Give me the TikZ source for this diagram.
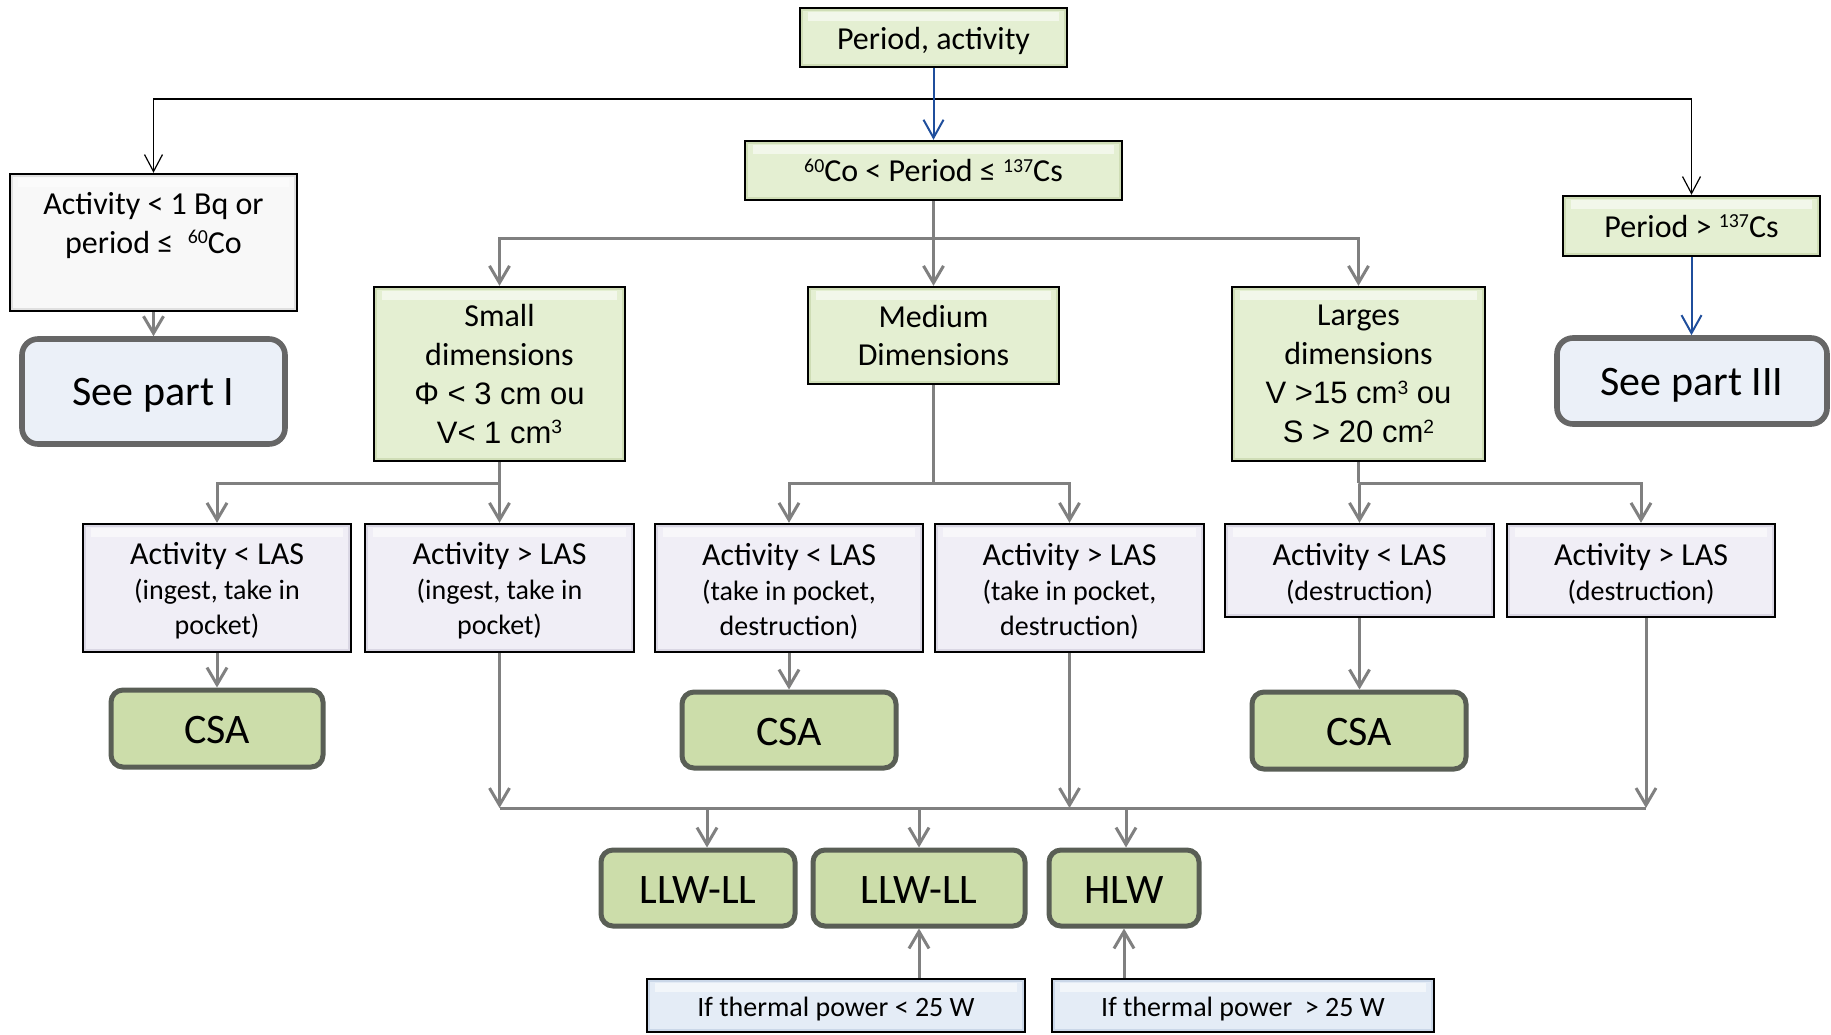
\documentclass[tikz,border=0pt]{standalone}
\usepackage{fontspec}
\setmainfont{Carlito}
\newfontfamily\arialf{Liberation Sans}
\usetikzlibrary{arrows.meta,calc}
\definecolor{gfill}{HTML}{E4EFD2}
\definecolor{gdark}{HTML}{CFDDB6}
\definecolor{wfill}{HTML}{F8F8F8}
\definecolor{wdark}{HTML}{E0E0E0}
\definecolor{lfill}{HTML}{F0EEF6}
\definecolor{ldark}{HTML}{DAD7E4}
\definecolor{tfill}{HTML}{E4ECF6}
\definecolor{tdark}{HTML}{CAD7E8}
\definecolor{seefill}{HTML}{EBF0F8}
\definecolor{seeborder}{HTML}{666666}
\definecolor{rfill}{HTML}{CCDDAA}
\definecolor{rborder}{HTML}{595E55}
\definecolor{agrey}{HTML}{808080}
\definecolor{ablue}{HTML}{1F4E9C}
\newcommand\sups[1]{{\dimen0=0.62\fontdimen6\font\edef\mysupsz{\the\dimen0}\raisebox{0.3em}{\fontsize{\mysupsz}{\mysupsz}\selectfont #1}}}
\newcommand\firstline{\rule{0pt}{14pt}}
\begin{document}
\begin{tikzpicture}[x=0.5pt,y=-0.5pt,
 bevel/.style={path picture={
   \draw[#1,line width=3pt] (path picture bounding box.north west) rectangle (path picture bounding box.south east);
   \fill[white,opacity=0.55] ([shift={(8,4)}]path picture bounding box.north west) rectangle ([shift={(-8,13)}]path picture bounding box.north east);}},
 lowtext/.style={execute at begin node={\rule{0pt}{#1}}},
 boxbase/.style={draw=black, line width=1.2pt, rectangle, inner sep=0pt, align=center, font=\fontsize{16}{19.4}\selectfont},
 gboxbase/.style={boxbase, fill=gfill, bevel=gdark},
 gbox/.style={gboxbase, lowtext=0.88em},
 wbox/.style={boxbase, fill=wfill, bevel=wdark},
 lbox/.style={boxbase, fill=lfill, bevel=ldark, font=\fontsize{16}{17.5}\selectfont},
 tbox/.style={boxbase, fill=tfill, bevel=tdark, font=\fontsize{14}{17}\selectfont, lowtext=0.95em},
 seebox/.style={draw=seeborder, line width=2.8pt, fill=seefill, rounded corners=8pt, inner sep=0pt, font=\fontsize{21}{25}\selectfont, lowtext=0.85em},
 rbox/.style={draw=rborder, line width=2.5pt, fill=rfill, rounded corners=6pt, inner sep=0pt, font=\fontsize{21}{25}\selectfont, lowtext=0.73em},
 gline/.style={draw=agrey, line width=1.5pt},
 garrow/.style={gline, -{Straight Barb[length=8.5pt,width=10pt]}},
 karrow/.style={draw=black, line width=0.6pt, -{Straight Barb[length=8.5pt,width=9pt]}},
 barrow/.style={draw=ablue, line width=1pt, -{Straight Barb[length=9pt,width=10pt]}}
]
\fill[white] (0,0) rectangle (1831,1034);
\useasboundingbox (0,0) rectangle (1831,1034);

% top row
\node[gbox, minimum width=133.5pt, minimum height=29.5pt] (pa) at (933.5,37.5) {Period, activity};
\node[gboxbase, minimum width=188.5pt, minimum height=29.5pt] (co) at (933.5,170.5) {\sups{60}Co < Period ≤ \sups{137}Cs};
\node[wbox, minimum width=143.5pt, minimum height=68.5pt] (act1) at (153.5,242.5) {Activity < 1 Bq or\\period ≤\ \ \sups{60}Co\\\mbox{}};
\node[seebox, minimum width=131.5pt, minimum height=52.5pt] (seeI) at (153.5,391.5) {See part I};
\node[gboxbase, minimum width=128.5pt, minimum height=30pt] (pc) at (1691.5,226) {Period > \sups{137}Cs};
\node[seebox, minimum width=135pt, minimum height=43pt] (seeIII) at (1692,381) {See part III};

% dimensions
\node[gbox, minimum width=125.5pt, minimum height=87pt] (smalld) at (499.5,374) {Small\\dimensions\\{\arialf\fontsize{15.5}{19.4}\selectfont Φ < 3 cm ou}\\{\arialf\fontsize{15.5}{19.4}\selectfont V< 1 cm\sups{3}}};
\node[gbox, minimum width=125.5pt, minimum height=48.5pt] (medium) at (933.5,335.5) {Medium\\Dimensions};
\node[gbox, minimum width=126.5pt, minimum height=87pt] (large) at (1358.5,374) {Larges\\dimensions\\{\arialf\fontsize{15.5}{19.4}\selectfont V >15 cm\sups{3} ou}\\{\arialf\fontsize{15.5}{19.4}\selectfont S > 20 cm\sups{2}}};

% LAS row
\node[lbox, minimum width=134pt, minimum height=64pt] (las1) at (217,588) {\firstline Activity < LAS\\{\fontsize{14}{17.5}\selectfont (ingest, take in}\\{\fontsize{14}{17.5}\selectfont pocket)}};
\node[lbox, minimum width=134.5pt, minimum height=64pt] (las2) at (499.5,588) {\firstline Activity > LAS\\{\fontsize{14}{17.5}\selectfont (ingest, take in}\\{\fontsize{14}{17.5}\selectfont pocket)}};
\node[lbox, minimum width=134pt, minimum height=64pt] (las3) at (789,588) {\firstline Activity < LAS\\{\fontsize{14}{17.5}\selectfont (take in pocket,}\\{\fontsize{14}{17.5}\selectfont destruction)}};
\node[lbox, minimum width=134.5pt, minimum height=64pt] (las4) at (1069.5,588) {\firstline Activity > LAS\\{\fontsize{14}{17.5}\selectfont (take in pocket,}\\{\fontsize{14}{17.5}\selectfont destruction)}};
\node[lbox, minimum width=134.5pt, minimum height=46.5pt] (las5) at (1359.5,570.5) {\firstline Activity < LAS\\{\fontsize{14}{17.5}\selectfont (destruction)}};
\node[lbox, minimum width=134pt, minimum height=46.5pt] (las6) at (1641,570.5) {\firstline Activity > LAS\\{\fontsize{14}{17.5}\selectfont (destruction)}};

% CSA
\node[rbox, minimum width=106pt, minimum height=38.5pt] (csa1) at (217,728.5) {CSA};
\node[rbox, minimum width=107pt, minimum height=38pt] (csa2) at (789,730) {CSA};
\node[rbox, minimum width=107pt, minimum height=38.5pt] (csa3) at (1359,730.5) {CSA};

% bottom
\node[rbox, minimum width=97pt, minimum height=38pt] (llw1) at (698,888) {LLW-LL};
\node[rbox, minimum width=106pt, minimum height=38pt] (llw2) at (919,888) {LLW-LL};
\node[rbox, minimum width=75pt, minimum height=38pt] (hlw) at (1124,888) {HLW};
\node[tbox, minimum width=189pt, minimum height=26.5pt] (th1) at (836,1005.5) {If thermal power < 25 W};
\node[tbox, minimum width=191pt, minimum height=26.5pt] (th2) at (1243,1005.5) {If thermal power\ \ > 25 W};

% connectors: top
\coordinate (tj) at (933.5,99);
\draw[karrow] (tj) -| (act1.north);
\draw[karrow] (tj) -| (pc.north);
\draw[barrow] (pa.south) -- (co.north);
\draw[garrow] (act1.south) -- (seeI.north);
\draw[barrow] (pc.south) -- (pc.south |- seeIII.north);

% dimensions
\coordinate (j1) at (933.5,238);
\draw[garrow] (co.south) -- (medium.north);
\draw[garrow] (j1) -| (smalld.north);
\draw[garrow] (j1) -| (large.north);

% LAS branches
\coordinate (j2) at (499.5,483);
\draw[gline] (smalld.south) -- (j2);
\draw[garrow] (j2) -| (las1.north);
\draw[garrow] (j2) -- (las2.north);
\coordinate (j3) at (933.5,483);
\draw[gline] (medium.south) -- (j3);
\draw[garrow] (j3) -| (las3.north);
\draw[garrow] (j3) -| (las4.north);
\coordinate (j4) at (1358.5,483);
\draw[gline] (large.south) -- (j4);
\draw[garrow] (j4) -| (las5.north);
\draw[garrow] (j4) -| (las6.north);

% to CSA
\draw[garrow] (las1.south) -- (csa1.north);
\draw[garrow] (las3.south) -- (csa2.north);
\draw[garrow] (las5.south) -- (las5.south |- csa3.north);

% collector
\coordinate (c2) at (499.5,808);
\coordinate (c4) at (1069.5,808);
\coordinate (c6) at (1646,808);
\draw[gline] (c2) -- (c6);
\draw[garrow] (las2.south) -- (c2);
\draw[garrow] (las4.south) -- (c4);
\draw[garrow] (las6.south -| c6) -- (c6);
\coordinate (d1) at (707,808);
\coordinate (d2) at (919,808);
\coordinate (d3) at (1126,808);
\draw[garrow] (d1) -- (d1 |- llw1.north);
\draw[garrow] (d2) -- (llw2.north);
\draw[garrow] (d3) -- (d3 |- hlw.north);

% thermal
\draw[garrow] (llw2.south |- th1.north) -- (llw2.south);
\draw[garrow] (hlw.south |- th2.north) -- (hlw.south);
\end{tikzpicture}
\end{document}
